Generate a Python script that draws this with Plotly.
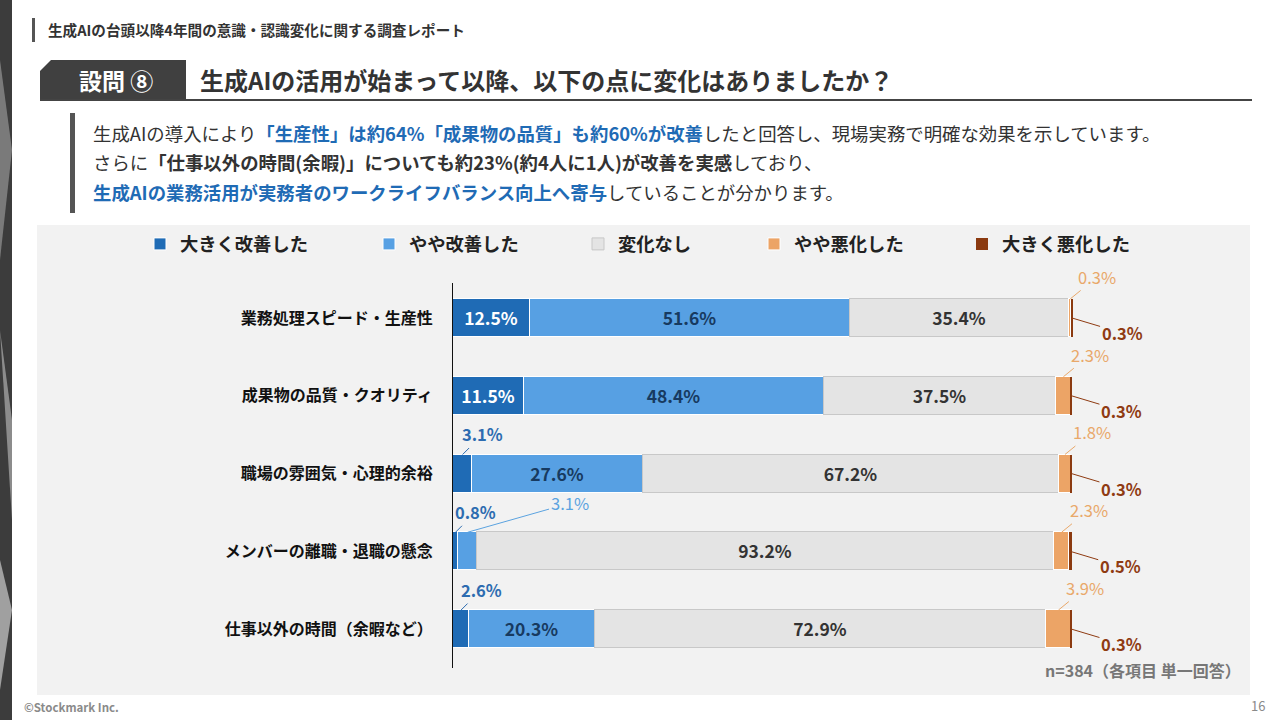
import plotly.graph_objects as go

W, H = 1280, 720
FONT = "Noto Sans CJK JP"

# data
items = [
    "業務処理スピード・生産性",
    "成果物の品質・クオリティ",
    "職場の雰囲気・心理的余裕",
    "メンバーの離職・退職の懸念",
    "仕事以外の時間（余暇など）",
]
series_names = ["大きく改善した", "やや改善した", "変化なし", "やや悪化した", "大きく悪化した"]
great_improve = [12.5, 11.5, 3.1, 0.8, 2.6]
some_improve = [51.6, 48.4, 27.6, 3.1, 20.3]
no_change = [35.4, 37.5, 67.2, 93.2, 72.9]
some_worse = [0.3, 2.3, 1.8, 2.3, 3.9]
great_worse = [0.3, 0.3, 0.3, 0.5, 0.3]
sample_note = "n=384（各項目 単一回答）"


def px(x):
    return x / W


def py(y):
    return 1 - y / H


series = [great_improve, some_improve, no_change, some_worse, great_worse]
colors = ["#1f6bb5", "#57a0e3", "#e4e4e4", "#eca466", "#8b3a10"]
line_cols = ["#ffffff", "#ffffff", "#c8c8c8", "#ffffff", "#8b3a10"]
inside_cols = ["#ffffff", "#173a60", "#333333", "#333333", "#ffffff"]
out_cols = ["#2d6cb0", "#5ba3e0", "#e9a86a", "#e9a86a", "#8f3b12"]
out_weight = [700, 400, 400, 400, 700]
# leader label offsets in pixels (dx, dy), and anchor: "top" of bar or "mid"
out_off = [(20, -20, "top"), (102, -29, "top"), (0, -20, "top"), (27, -22, "top"), (50, 15, "mid")]
legend_x = [140, 369, 578, 754, 962]

fig = go.Figure()
for i, (name, vals) in enumerate(zip(series_names, series)):
    txt = [f"{v:.1f}%" if v >= 5 else "" for v in vals]
    fig.add_trace(go.Bar(
        y=items, x=vals, name=name, orientation="h",
        marker=dict(color=colors[i], line=dict(color=line_cols[i], width=1 if i < 4 else 0)),
        text=txt, textposition="inside", insidetextanchor="middle",
        textfont=dict(family=FONT, size=17.5, color=inside_cols[i], weight=700),
        width=0.49, legend="legend" if i == 0 else f"legend{i + 1}",
        hoverinfo="skip",
    ))

# outside labels with leader lines for the small segments
annotations = []
for i, vals in enumerate(series):
    for r, v in enumerate(vals):
        if v >= 5:
            continue
        start = sum(series[k][r] for k in range(i))
        dx, dy, anchor = out_off[i]
        annotations.append(dict(
            x=start + v / 2, y=r - 0.245 if anchor == "top" else r,
            xref="x", yref="y", ax=dx, ay=dy, axref="pixel", ayref="pixel",
            text=f"{v:.1f}%", showarrow=True, arrowhead=0, arrowwidth=1,
            arrowcolor=out_cols[i], standoff=0,
            font=dict(family=FONT, size=16.5, color=out_cols[i], weight=out_weight[i]),
        ))

# header texts
texts = [
    dict(x=px(46), y=py(30), text="生成AIの台頭以降4年間の意識・認識変化に関する調査レポート",
         xanchor="left", yanchor="middle", font=dict(family=FONT, size=14.6, color="#333333", weight=700)),
    dict(x=px(116), y=py(80), text="設問 ⑧", xanchor="center", yanchor="middle",
         font=dict(family=FONT, size=23, color="#ffffff", weight=700)),
    dict(x=px(198), y=py(79), text="生成AIの活用が始まって以降、以下の点に変化はありましたか？",
         xanchor="left", yanchor="middle", font=dict(family=FONT, size=24, color="#333333", weight=700)),
    dict(x=px(91), y=py(133), xanchor="left", yanchor="middle",
         text="生成AIの導入により<span style='color:#1f6bb5'><b>「生産性」は約64%「成果物の品質」も約60%が改善</b></span>したと回答し、現場実務で明確な効果を示しています。",
         font=dict(family=FONT, size=18.4, color="#333333")),
    dict(x=px(91), y=py(162), xanchor="left", yanchor="middle",
         text="さらに<b>「仕事以外の時間(余暇)」についても約23%(約4人に1人)が改善を実感</b>しており、",
         font=dict(family=FONT, size=18.4, color="#333333")),
    dict(x=px(91), y=py(192), xanchor="left", yanchor="middle",
         text="<span style='color:#1f6bb5'><b>生成AIの業務活用が実務者のワークライフバランス向上へ寄与</b></span>していることが分かります。",
         font=dict(family=FONT, size=18.4, color="#333333")),
    dict(x=px(1243), y=py(670), text=sample_note, xanchor="right", yanchor="middle",
         font=dict(family=FONT, size=16, color="#777777", weight=700)),
    dict(x=px(22), y=py(707), text="©Stockmark Inc.", xanchor="left", yanchor="middle",
         font=dict(family=FONT, size=11.5, color="#8a8a8a", weight=700)),
    dict(x=px(1267), y=py(705), text="16", xanchor="right", yanchor="middle",
         font=dict(family=FONT, size=13, color="#8a8a8a")),
]
for a in texts:
    a.update(xref="paper", yref="paper", showarrow=False)
annotations += texts

# decorative shapes
shapes = [
    dict(type="rect", x0=0, x1=px(12), y0=0, y1=1, fillcolor="#3c3c3c", line_width=0, layer="below"),
    dict(type="path", path=f"M 0 {py(60)} L {px(12)} {py(150)} L 0 {py(260)} Z",
         fillcolor="#7a7a7a", line_width=0, layer="below"),
    dict(type="path", path=f"M 0 {py(330)} L {px(12)} {py(420)} L {px(12)} {py(520)} Z",
         fillcolor="#8c8c8c", line_width=0, layer="below"),
    dict(type="path", path=f"M 0 {py(560)} L {px(12)} {py(610)} L 0 {py(690)} Z",
         fillcolor="#a0a0a0", line_width=0, layer="below"),
    dict(type="rect", x0=px(32), x1=px(35), y0=py(42), y1=py(18), fillcolor="#555555", line_width=0),
    dict(type="path",
         path=f"M {px(40)} {py(101)} L {px(40)} {py(71)} L {px(51)} {py(60)} L {px(186)} {py(60)} L {px(186)} {py(101)} Z",
         fillcolor="#404040", line_width=0),
    dict(type="line", x0=px(40), x1=px(1252), y0=py(100), y1=py(100), line=dict(color="#444444", width=2)),
    dict(type="rect", x0=px(70), x1=px(75), y0=py(213), y1=py(113), fillcolor="#555555", line_width=0),
    dict(type="rect", x0=px(37), x1=px(1250), y0=py(695), y1=py(225), fillcolor="#f2f2f2",
         line_width=0, layer="below"),
]
for s in shapes:
    s.update(xref="paper", yref="paper")

legends = {}
for i, lx in enumerate(legend_x):
    key = "legend" if i == 0 else f"legend{i + 1}"
    legends[key] = dict(
        x=px(lx), y=py(244), xanchor="left", yanchor="middle", orientation="h",
        bgcolor="rgba(0,0,0,0)", itemwidth=30,
        font=dict(family=FONT, size=18.3, color="#222222", weight=700),
    )

fig.update_layout(
    width=W, height=H, margin=dict(l=0, r=0, t=0, b=0),
    paper_bgcolor="#ffffff", plot_bgcolor="rgba(0,0,0,0)",
    barmode="stack", bargap=0, showlegend=True,
    xaxis=dict(domain=[px(453), px(1073)], range=[0, 100.1], visible=False),
    yaxis=dict(domain=[py(668), py(283)], categoryorder="array", categoryarray=items,
               range=[4.5, -0.45], showline=True, linecolor="#111111", linewidth=1,
               showgrid=False, zeroline=False, ticks="", ticklabelstandoff=16,
               tickfont=dict(family=FONT, size=16, color="#111111", weight=700)),
    annotations=annotations, shapes=shapes,
    **legends,
)

# drop the default page margin so the 1280x720 figure fills the window exactly
fig.write_html("out.html", config={"displayModeBar": False},
               post_script="document.body.style.margin='0';")
